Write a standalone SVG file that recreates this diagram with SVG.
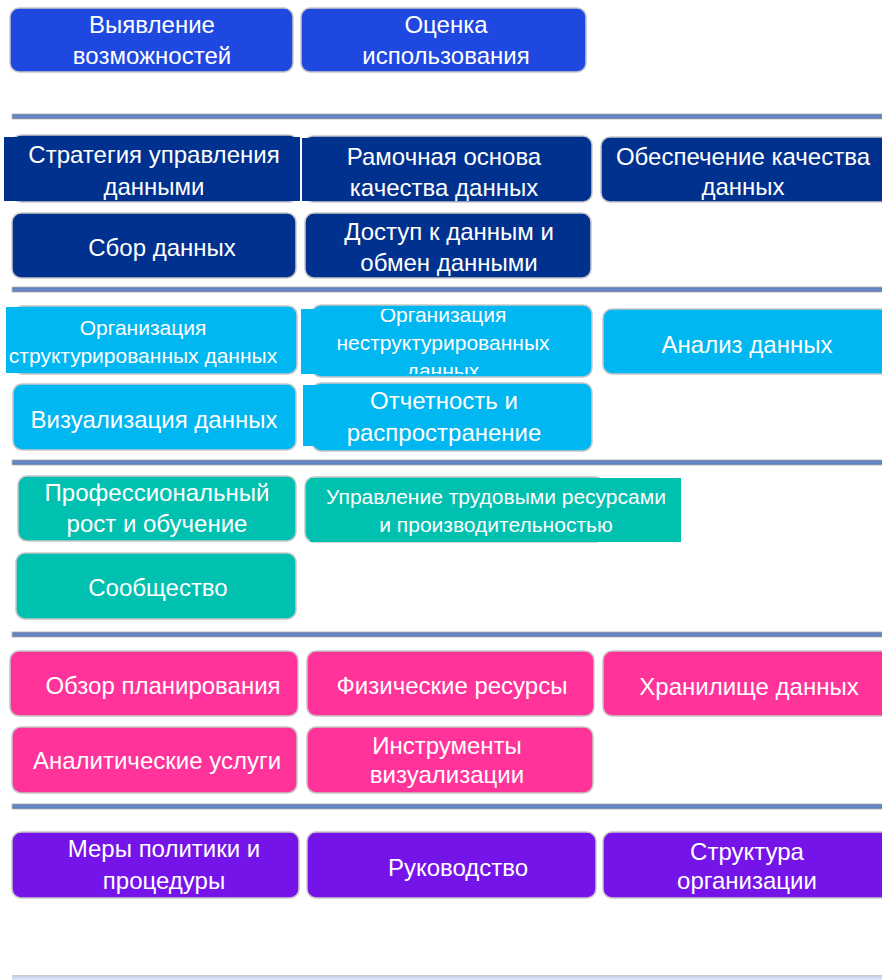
<svg xmlns="http://www.w3.org/2000/svg" width="882" height="980" viewBox="0 0 882 980">
<style>
text{font-family:"Liberation Sans",Arial,sans-serif;font-size:24px;fill:#ffffff;text-anchor:middle}
text.s{font-size:21px}
.box{stroke:#c8c8c8;stroke-width:1.5}
.b1{fill:#1f48e0}
.b2{fill:#00318f}
.b3{fill:#00b7f1}
.b4{fill:#00c1b0}
.b5{fill:#ff3399}
.b6{fill:#7514e8}
.sep{fill:url(#sepg);stroke:#bdbdbd;stroke-width:1}
</style>
<defs>
<linearGradient id="sepg" x1="0" y1="0" x2="0" y2="1">
<stop offset="0" stop-color="#3b5fa8"/>
<stop offset="0.5" stop-color="#7090cc"/>
<stop offset="1" stop-color="#3b5fa8"/>
</linearGradient>
<linearGradient id="sepl" x1="0" y1="0" x2="0" y2="1">
<stop offset="0" stop-color="#c8c8c8"/>
<stop offset="0.5" stop-color="#c9d8f2"/>
<stop offset="1" stop-color="#dfe8f8"/>
</linearGradient>
<clipPath id="clipB"><rect x="301" y="309" width="287" height="65"/></clipPath>
</defs>

<g id="separators">
<rect class="sep" x="12" y="114" width="875" height="5"/>
<rect class="sep" x="12" y="287" width="875" height="5"/>
<rect class="sep" x="12" y="460" width="875" height="5"/>
<rect class="sep" x="12" y="632" width="875" height="5"/>
<rect class="sep" x="12" y="804" width="875" height="5"/>
<rect x="12" y="975" width="875" height="5" fill="url(#sepl)"/>
</g>

<g id="n-vyyavlenie">
<rect class="box b1" x="10" y="8" width="283" height="64" rx="9"/>
<text x="152" y="33">Выявление</text>
<text x="152" y="64">возможностей</text>
</g>
<g id="n-otsenka">
<rect class="box b1" x="301" y="8" width="285" height="64" rx="9"/>
<text x="446" y="33">Оценка</text>
<text x="446" y="64">использования</text>
</g>

<g id="n-strategiya">
<rect class="box b2" x="12" y="135" width="286" height="67" rx="9"/>
<rect class="b2" x="4" y="137" width="296" height="64"/>
<text x="154" y="163">Стратегия управления</text>
<text x="154" y="195">данными</text>
</g>
<g id="n-ramochnaya">
<rect class="box b2" x="304" y="136" width="288" height="66" rx="9"/>
<rect class="b2" x="302" y="138" width="150" height="63"/>
<text x="444" y="165">Рамочная основа</text>
<text x="444" y="196">качества данных</text>
</g>
<g id="n-obespechenie">
<rect class="box b2" x="601" y="137" width="290" height="65" rx="9"/>
<text x="743" y="165">Обеспечение качества</text>
<text x="743" y="195">данных</text>
</g>
<g id="n-sbor">
<rect class="box b2" x="12" y="213" width="284" height="65" rx="9"/>
<text x="162" y="256">Сбор данных</text>
</g>
<g id="n-dostup">
<rect class="box b2" x="305" y="213" width="286" height="65" rx="9"/>
<text x="449" y="240">Доступ к данным и</text>
<text x="449" y="271">обмен данными</text>
</g>

<g id="n-org-struct">
<rect class="box b3" x="13" y="306" width="284" height="68" rx="9"/>
<rect class="b3" x="6" y="307" width="200" height="66"/>
<text class="s" x="143" y="335">Организация</text>
<text class="s" x="143" y="363">структурированных данных</text>
</g>
<g id="n-org-nestruct">
<rect class="box b3" x="312" y="305" width="280" height="72" rx="9"/>
<rect class="b3" x="301" y="309" width="287" height="65"/>
<g clip-path="url(#clipB)">
<text class="s" x="443" y="322">Организация</text>
<text class="s" x="443" y="350">неструктурированных</text>
<text class="s" x="443" y="378">данных</text>
</g>
</g>
<g id="n-analiz">
<rect class="box b3" x="603" y="309" width="290" height="65" rx="9"/>
<text x="747" y="353">Анализ данных</text>
</g>
<g id="n-vizualizatsiya">
<rect class="box b3" x="13" y="384" width="283" height="66" rx="9"/>
<text x="154" y="428">Визуализация данных</text>
</g>
<g id="n-otchetnost">
<rect class="box b3" x="312" y="383" width="280" height="68" rx="9"/>
<rect class="b3" x="303" y="385" width="150" height="61"/>
<text x="444" y="409">Отчетность и</text>
<text x="444" y="441">распространение</text>
</g>

<g id="n-prof">
<rect class="box b4" x="18" y="476" width="278" height="65" rx="9"/>
<text x="157" y="501">Профессиональный</text>
<text x="157" y="532">рост и обучение</text>
</g>
<g id="n-upravlenie">
<rect class="box b4" x="305" y="477" width="300" height="65" rx="9"/>
<rect class="b4" x="310" y="478" width="371" height="64"/>
<text class="s" x="496" y="504">Управление трудовыми ресурсами</text>
<text class="s" x="496" y="532">и производительностью</text>
</g>
<g id="n-soobshchestvo">
<rect class="box b4" x="16" y="553" width="280" height="66" rx="9"/>
<text x="158" y="596">Сообщество</text>
</g>

<g id="n-obzor">
<rect class="box b5" x="10" y="651" width="288" height="65" rx="9"/>
<text x="163" y="694">Обзор планирования</text>
</g>
<g id="n-fizicheskie">
<rect class="box b5" x="307" y="651" width="287" height="65" rx="9"/>
<text x="452" y="694">Физические ресурсы</text>
</g>
<g id="n-khranilishche">
<rect class="box b5" x="603" y="651" width="290" height="65" rx="9"/>
<text x="749" y="695">Хранилище данных</text>
</g>
<g id="n-analiticheskie">
<rect class="box b5" x="12" y="727" width="285" height="66" rx="9"/>
<text x="157" y="769">Аналитические услуги</text>
</g>
<g id="n-instrumenty">
<rect class="box b5" x="307" y="727" width="286" height="66" rx="9"/>
<text x="447" y="754">Инструменты</text>
<text x="447" y="783">визуализации</text>
</g>

<g id="n-mery">
<rect class="box b6" x="12" y="832" width="287" height="66" rx="9"/>
<text x="164" y="857">Меры политики и</text>
<text x="164" y="889">процедуры</text>
</g>
<g id="n-rukovodstvo">
<rect class="box b6" x="307" y="832" width="289" height="66" rx="9"/>
<text x="458" y="876">Руководство</text>
</g>
<g id="n-struktura">
<rect class="box b6" x="603" y="832" width="290" height="66" rx="9"/>
<text x="747" y="860">Структура</text>
<text x="747" y="889">организации</text>
</g>
</svg>
